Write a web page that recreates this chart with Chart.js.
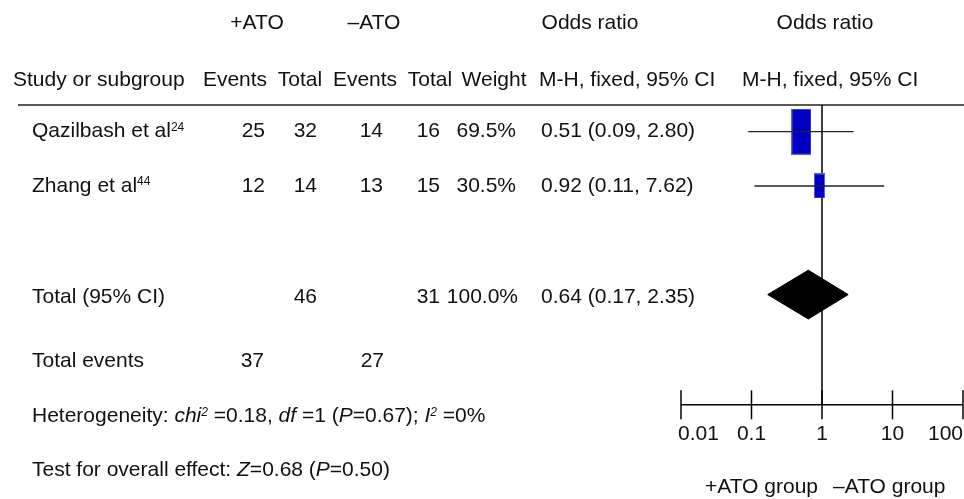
<!DOCTYPE html>
<html>
<head>
<meta charset="utf-8">
<script src="https://cdn.jsdelivr.net/npm/chart.js@4/dist/chart.umd.min.js"></script>
<style>
html,body{margin:0;padding:0;background:#fff;overflow:hidden;}
#forest{display:block;}
</style>
</head>
<body>
<canvas id="forest" width="964" height="499"></canvas>
<script>
// data
const studies = ['Qazilbash et al', 'Zhang et al'];
const refs = ['24', '44'];
const atoEvents = [25, 12];
const atoTotal = [32, 14];
const ctrlEvents = [14, 13];
const ctrlTotal = [16, 15];
const weights = ['69.5%', '30.5%'];
const oddsRatio = [0.51, 0.92];
const ciLow = [0.09, 0.11];
const ciHigh = [2.80, 7.62];
const pooledOR = [0.64, 0.17, 2.35];   // estimate, low, high
const pooledTotals = [46, 31];
const pooledWeight = '100.0%';
const totalEvents = [37, 27];
const tickValues = [0.01, 0.1, 1, 10, 100];
const tickLabels = ['0.01', '0.1', '1', '10', '100'];

// layout (rows in y-scale units, text columns in px)
const studyRows = [0, 1];
const totalRow = 3;
const ROW = {head1: -1.99, head2: -0.95, rule: -0.49, events: 4.22, het: 5.24,
	test: 6.23, axis: 5.03, tickLab: 5.57, groupLab: 6.54};
const boxSizes = [[20, 46], [11, 25]];
const diamondHalf = 0.45;
const FONT = '"Liberation Sans", Arial, sans-serif';
const INK = '#111';

function boxImg(w, h){
	const c = document.createElement('canvas');
	c.width = w; c.height = h;
	const g = c.getContext('2d');
	g.fillStyle = '#0000c4';
	g.fillRect(0, 0, w, h);
	g.strokeStyle = '#5c5ce0';
	g.lineWidth = 1;
	g.strokeRect(0.5, 0.5, w - 1, h - 1);
	return c;
}

function fontFor(r){
	return (r.italic ? 'italic ' : '') + (r.sup ? '12px ' : '21px ') + FONT;
}
function drawRuns(ctx, runs, x, y, align){
	const widths = runs.map(r => { ctx.font = fontFor(r); return ctx.measureText(r.t).width; });
	const total = widths.reduce((a, b) => a + b, 0);
	let cx = align === 'right' ? x - total : align === 'center' ? x - total / 2 : x;
	ctx.textAlign = 'left';
	runs.forEach((r, i) => {
		ctx.font = fontFor(r);
		ctx.fillText(r.t, cx, r.sup ? y - 4 : y);
		cx += widths[i];
	});
}
function txt(ctx, s, x, y, align){ drawRuns(ctx, [{t: s}], x, y, align); }
function fmtCI(o, l, h){ return o.toFixed(2) + ' (' + l.toFixed(2) + ', ' + h.toFixed(2) + ')'; }

const datasets = [];
studies.forEach((s, i) => {
	datasets.push({
		data: [{x: ciLow[i], y: studyRows[i]}, {x: ciHigh[i], y: studyRows[i]}],
		borderColor: '#222', borderWidth: 1.3, pointRadius: 0
	});
});
datasets.push({
	data: studies.map((s, i) => ({x: oddsRatio[i], y: studyRows[i]})),
	showLine: false, pointRadius: 5,
	pointStyle: boxSizes.map(b => boxImg(b[0], b[1]))
});
datasets.push({
	data: [
		{x: pooledOR[1], y: totalRow},
		{x: pooledOR[0], y: totalRow - diamondHalf},
		{x: pooledOR[2], y: totalRow},
		{x: pooledOR[0], y: totalRow + diamondHalf},
		{x: pooledOR[1], y: totalRow}
	],
	borderColor: '#000', borderWidth: 1, backgroundColor: '#000',
	fill: 'shape', pointRadius: 0
});
datasets.push({
	data: [{x: 1, y: ROW.rule}, {x: 1, y: ROW.axis}],
	borderColor: '#000', borderWidth: 1.5, pointRadius: 0
});
datasets.push({
	data: [{x: tickValues[0], y: ROW.axis}, {x: tickValues[tickValues.length - 1], y: ROW.axis}],
	borderColor: '#000', borderWidth: 1.5, pointRadius: 0
});

const tablePlugin = {
	id: 'table',
	afterDraw(chart){
		const ctx = chart.ctx;
		const xs = chart.scales.x, ys = chart.scales.y;
		const Y = v => ys.getPixelForValue(v);
		ctx.save();
		ctx.fillStyle = INK;
		ctx.textBaseline = 'middle';

		// headers
		txt(ctx, '+ATO', 257, Y(ROW.head1), 'center');
		txt(ctx, '\u2013ATO', 374, Y(ROW.head1), 'center');
		txt(ctx, 'Odds ratio', 590, Y(ROW.head1), 'center');
		txt(ctx, 'Odds ratio', 825, Y(ROW.head1), 'center');
		txt(ctx, 'Study or subgroup', 13, Y(ROW.head2), 'left');
		txt(ctx, 'Events', 235, Y(ROW.head2), 'center');
		txt(ctx, 'Total', 300, Y(ROW.head2), 'center');
		txt(ctx, 'Events', 365, Y(ROW.head2), 'center');
		txt(ctx, 'Total', 430, Y(ROW.head2), 'center');
		txt(ctx, 'Weight', 494, Y(ROW.head2), 'center');
		txt(ctx, 'M-H, fixed, 95% CI', 539, Y(ROW.head2), 'left');
		txt(ctx, 'M-H, fixed, 95% CI', 742, Y(ROW.head2), 'left');

		// rule under header
		ctx.strokeStyle = '#222';
		ctx.lineWidth = 1.5;
		ctx.beginPath();
		ctx.moveTo(18, Y(ROW.rule));
		ctx.lineTo(chart.width, Y(ROW.rule));
		ctx.stroke();

		// study rows
		studies.forEach((s, i) => {
			const y = Y(studyRows[i]);
			drawRuns(ctx, [{t: s}, {t: refs[i], sup: true}], 32, y, 'left');
			txt(ctx, String(atoEvents[i]), 265, y, 'right');
			txt(ctx, String(atoTotal[i]), 317, y, 'right');
			txt(ctx, String(ctrlEvents[i]), 383, y, 'right');
			txt(ctx, String(ctrlTotal[i]), 440, y, 'right');
			txt(ctx, weights[i], 516, y, 'right');
			txt(ctx, fmtCI(oddsRatio[i], ciLow[i], ciHigh[i]), 541, y, 'left');
		});

		// totals
		const ty = Y(totalRow + 0.05);
		txt(ctx, 'Total (95% CI)', 32, ty, 'left');
		txt(ctx, String(pooledTotals[0]), 317, ty, 'right');
		txt(ctx, String(pooledTotals[1]), 440, ty, 'right');
		txt(ctx, pooledWeight, 518, ty, 'right');
		txt(ctx, fmtCI(pooledOR[0], pooledOR[1], pooledOR[2]), 541, ty, 'left');

		const ey = Y(ROW.events);
		txt(ctx, 'Total events', 32, ey, 'left');
		txt(ctx, String(totalEvents[0]), 264, ey, 'right');
		txt(ctx, String(totalEvents[1]), 384, ey, 'right');

		drawRuns(ctx, [
			{t: 'Heterogeneity: '}, {t: 'chi', italic: true}, {t: '2', italic: true, sup: true},
			{t: ' =0.18, '}, {t: 'df', italic: true}, {t: ' =1 ('}, {t: 'P', italic: true},
			{t: '=0.67); '}, {t: 'I', italic: true}, {t: '2', italic: true, sup: true}, {t: ' =0%'}
		], 32, Y(ROW.het), 'left');
		drawRuns(ctx, [
			{t: 'Test for overall effect: '}, {t: 'Z', italic: true}, {t: '=0.68 ('},
			{t: 'P', italic: true}, {t: '=0.50)'}
		], 32, Y(ROW.test), 'left');

		// log axis ticks and labels
		const ay = Y(ROW.axis);
		ctx.strokeStyle = '#000';
		ctx.lineWidth = 1.5;
		tickValues.forEach((v, i) => {
			const px = Math.min(xs.getPixelForValue(v), chart.width - 1);
			ctx.beginPath();
			ctx.moveTo(px, ay - 14.5);
			ctx.lineTo(px, ay + 14.5);
			ctx.stroke();
			const align = i === 0 ? 'left' : i === tickValues.length - 1 ? 'right' : 'center';
			txt(ctx, tickLabels[i], i === 0 ? px - 3 : px, Y(ROW.tickLab), align);
		});
		const one = xs.getPixelForValue(1);
		txt(ctx, '+ATO group', one - 4, Y(ROW.groupLab), 'right');
		txt(ctx, '\u2013ATO group', one + 11, Y(ROW.groupLab), 'left');
		ctx.restore();
	}
};

const forest = new Chart(document.querySelector('#forest').getContext('2d'), {
	type: 'line',
	data: {datasets: datasets},
	options: {
		responsive: false,
		animation: false,
		events: [],
		layout: {autoPadding: false, padding: {left: 681, right: 1, top: 0, bottom: 0}},
		plugins: {legend: {display: false}, tooltip: {enabled: false}},
		scales: {
			x: {type: 'logarithmic', min: 0.01, max: 100, display: false},
			y: {type: 'linear', min: -2.425, max: 6.764, reverse: true, display: false}
		}
	},
	plugins: [tablePlugin]
});
</script>
</body>
</html>
